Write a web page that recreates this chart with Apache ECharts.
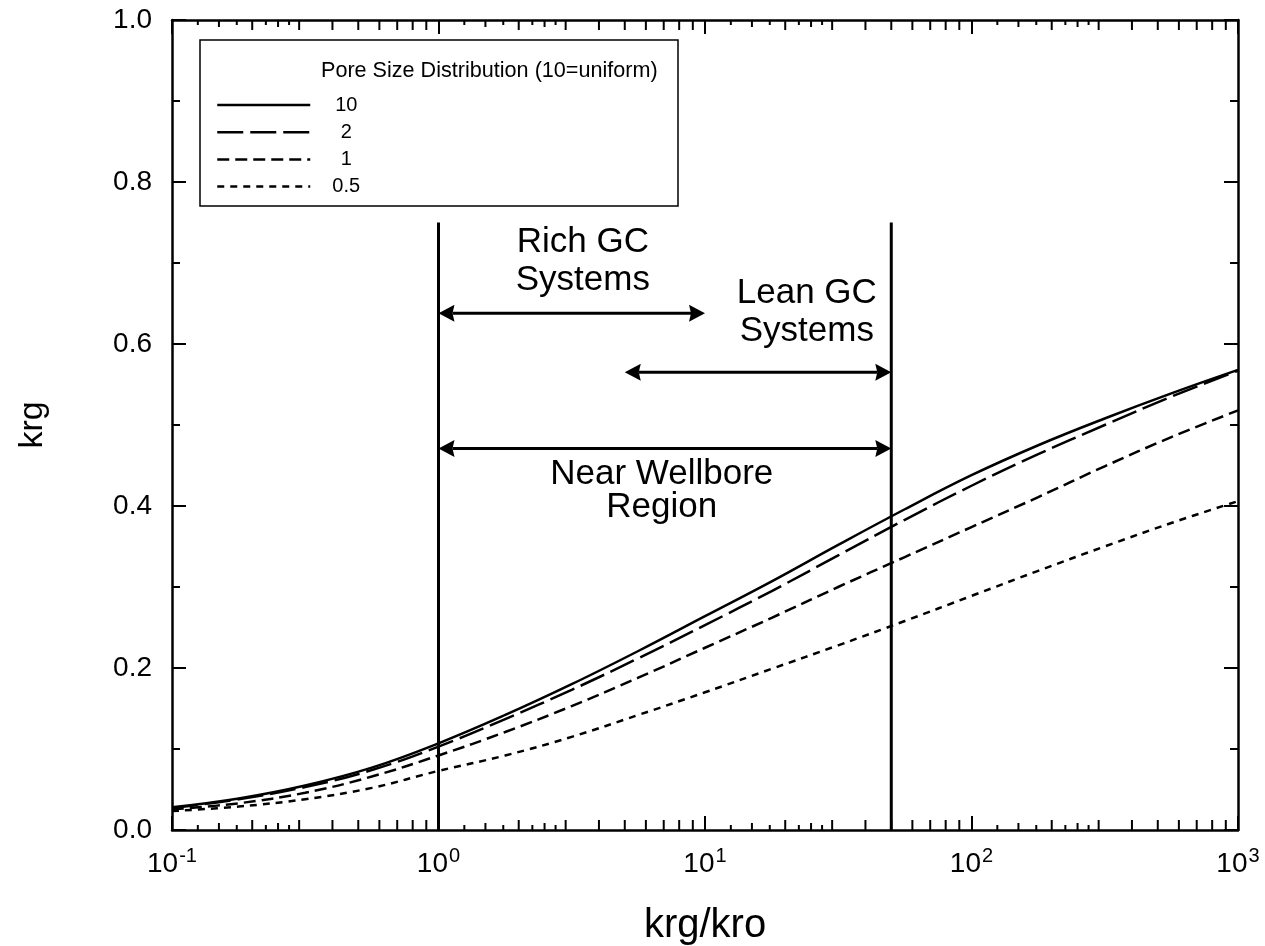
<!DOCTYPE html>
<html>
<head>
<meta charset="utf-8">
<script src="https://cdn.jsdelivr.net/npm/echarts@6.0.0/dist/echarts.min.js"></script>
<style>
  html, body { margin: 0; padding: 0; background: #fff; }
  #chart { width: 1265px; height: 946px; }
</style>
</head>
<body>
<div id="chart"></div>
<script>
// krg/kro ratio sample points (quarter-decade steps)
const kRatio = [0.1, 0.178, 0.316, 0.562, 1, 1.78, 3.16, 5.62, 10, 17.8, 31.6, 56.2, 100, 178, 316, 562, 1000];

// Gas relative permeability for each pore size distribution index
const krgPsd10  = [0.028, 0.039, 0.055, 0.077, 0.107, 0.142, 0.180, 0.221, 0.264, 0.307, 0.352, 0.396, 0.438, 0.475, 0.508, 0.539, 0.568];
const krgPsd2   = [0.027, 0.038, 0.053, 0.074, 0.103, 0.137, 0.173, 0.212, 0.253, 0.295, 0.339, 0.383, 0.425, 0.464, 0.500, 0.535, 0.567];
const krgPsd1   = [0.0255, 0.033, 0.046, 0.066, 0.092, 0.121, 0.153, 0.188, 0.225, 0.262, 0.300, 0.337, 0.374, 0.411, 0.449, 0.485, 0.518];
const krgPsd05  = [0.0234, 0.029, 0.038, 0.052, 0.073, 0.092, 0.115, 0.142, 0.170, 0.199, 0.228, 0.258, 0.289, 0.320, 0.350, 0.379, 0.406];

const seriesNames = ['10', '2', '1', '0.5'];
const yTickLabels = ['0.0', '0.2', '0.4', '0.6', '0.8', '1.0'];

// Region boundaries (krg/kro) and the extent of the vertical markers (krg)
const boundaryRatios = [1, 50];
const boundaryTop = 0.75;

// Range arrows: [from ratio, to ratio, krg level]
const rangeArrows = [
  [1, 10, 0.638],   // rich gas condensates
  [5, 50, 0.565],   // lean gas condensates
  [1, 50, 0.471]    // near wellbore region
];

// Annotation texts anchored at [ratio, krg]
const noteTexts = ['Rich GC\nSystems', 'Lean GC\nSystems', 'Near Wellbore\nRegion'];
const notePos = [[3.48, 0.702], [24.1, 0.6385], [6.88, 0.419]];
const noteLineHeights = [38, 38, 33];

// Log-axis sub-ticks inside each decade
const decadeStarts = [0.1, 1, 10, 100];
const subTickFactors = [1.25, 1.5, 1.75, 2, 2.25, 2.5, 2.75, 3, 4, 5, 6, 7, 8, 9];

const FONT = '"Liberation Sans", Arial, Helvetica, sans-serif';
const INK = '#000';

const toPairs = arr => kRatio.map((x, i) => [x, arr[i]]);
const dashStyles = ['solid', [26, 7], [12, 6], [7, 6]];
const curveSets = [krgPsd10, krgPsd2, krgPsd1, krgPsd05];

const curveSeries = curveSets.map((vals, i) => ({
  name: seriesNames[i],
  type: 'line',
  data: toPairs(vals),
  smooth: 0.4,
  symbol: 'none',
  silent: true,
  lineStyle: { color: INK, width: 2.5, type: dashStyles[i] },
  itemStyle: { color: INK },
  z: 3
}));

const subTickData = [];
decadeStarts.forEach(d => subTickFactors.forEach(f => subTickData.push([d * f, 0, f])));

const chart = echarts.init(document.getElementById('chart'), null, { renderer: 'canvas' });

chart.setOption({
  backgroundColor: '#fff',
  animation: false,
  textStyle: { fontFamily: FONT, color: INK },
  grid: { left: 172, right: 27, top: 20, bottom: 116, containLabel: false, outerBoundsMode: 'none' },
  xAxis: [
    {
      type: 'log', logBase: 10, min: 0.1, max: 1000, position: 'bottom',
      name: 'krg/kro', nameLocation: 'middle', nameGap: 76,
      nameTextStyle: { fontSize: 40, color: INK, fontFamily: FONT },
      axisLine: { show: true, onZero: false, lineStyle: { color: INK, width: 2.5 } },
      axisTick: { show: true, inside: true, length: 14, lineStyle: { color: INK, width: 2 } },
      minorTick: { show: false },
      splitLine: { show: false },
      axisLabel: {
        margin: 16,
        formatter: v => '{b|10}{s|' + Math.round(Math.log10(v)) + '}',
        rich: {
          b: { fontSize: 28, fontFamily: FONT, color: INK, lineHeight: 32, verticalAlign: 'bottom' },
          s: { fontSize: 20, fontFamily: FONT, color: INK, lineHeight: 32, verticalAlign: 'top', padding: [0, 0, 0, 1] }
        }
      }
    },
    {
      type: 'log', logBase: 10, min: 0.1, max: 1000, position: 'top',
      axisLine: { show: true, onZero: false, lineStyle: { color: INK, width: 2.5 } },
      axisTick: { show: true, inside: true, length: 14, lineStyle: { color: INK, width: 2 } },
      axisLabel: { show: false },
      splitLine: { show: false }
    }
  ],
  yAxis: [
    {
      type: 'value', min: 0, max: 1, interval: 0.2, position: 'left',
      name: 'krg', nameLocation: 'middle', nameGap: 122,
      nameTextStyle: { fontSize: 34, color: INK, fontFamily: FONT },
      axisLine: { show: true, onZero: false, lineStyle: { color: INK, width: 2.5 } },
      axisTick: { show: true, inside: true, length: 14, lineStyle: { color: INK, width: 2 } },
      minorTick: { show: true, splitNumber: 2, length: 8, lineStyle: { color: INK, width: 2 } },
      splitLine: { show: false },
      axisLabel: {
        margin: 20, fontSize: 28, color: INK, fontFamily: FONT,
        formatter: v => yTickLabels[Math.round(v / 0.2)]
      }
    },
    {
      type: 'value', min: 0, max: 1, interval: 0.2, position: 'right',
      axisLine: { show: true, onZero: false, lineStyle: { color: INK, width: 2.5 } },
      axisTick: { show: true, inside: true, length: 14, lineStyle: { color: INK, width: 2 } },
      minorTick: { show: true, splitNumber: 2, length: 8, lineStyle: { color: INK, width: 2 } },
      splitLine: { show: false },
      axisLabel: { show: false }
    }
  ],
  legend: {
    data: seriesNames,
    orient: 'vertical',
    left: 211, top: 90,
    itemWidth: 93, itemHeight: 20, itemGap: 7.2,
    selectedMode: false,
    itemStyle: { opacity: 0, borderWidth: 0 },
    lineStyle: { width: 2.5, color: INK },
    formatter: '{c|{name}}',
    textStyle: {
      fontSize: 20, color: INK, fontFamily: FONT,
      rich: { c: { width: 62, align: 'center', fontSize: 20, lineHeight: 20, fontFamily: FONT, color: INK } }
    }
  },
  graphic: [
    {
      type: 'rect', z: 1,
      shape: { x: 200, y: 40, width: 478, height: 166 },
      style: { fill: '#fff', stroke: INK, lineWidth: 1.5 }
    },
    {
      type: 'text', z: 2, x: 321, y: 71,
      style: { text: 'Pore Size Distribution (10=uniform)', fontSize: 21.6, fontFamily: FONT, fill: INK, verticalAlign: 'middle' }
    }
  ],
  series: [
    ...curveSeries,
    {
      name: 'subticks',
      type: 'custom',
      silent: true,
      data: subTickData,
      encode: { x: 0, y: 1 },
      renderItem: (params, api) => {
        const x = api.value(0);
        const f = api.value(2);
        const len = Number.isInteger(f) ? 10 : ((f === 1.5 || f === 2.5) ? 7 : 5);
        const b = api.coord([x, 0]);
        const t = api.coord([x, 1]);
        return {
          type: 'group',
          children: [
            { type: 'line', shape: { x1: b[0], y1: b[1], x2: b[0], y2: b[1] - len }, style: { stroke: INK, lineWidth: 2 } },
            { type: 'line', shape: { x1: t[0], y1: t[1], x2: t[0], y2: t[1] + len }, style: { stroke: INK, lineWidth: 2 } }
          ]
        };
      },
      z: 4
    },
    {
      name: 'boundaries',
      type: 'custom',
      silent: true,
      data: boundaryRatios.map(r => [r, 0, boundaryTop]),
      encode: { x: 0, y: [1, 2] },
      renderItem: (params, api) => {
        const p0 = api.coord([api.value(0), api.value(1)]);
        const p1 = api.coord([api.value(0), api.value(2)]);
        return { type: 'line', shape: { x1: p0[0], y1: p0[1], x2: p1[0], y2: p1[1] }, style: { stroke: INK, lineWidth: 3 } };
      },
      z: 5
    },
    {
      name: 'ranges',
      type: 'custom',
      silent: true,
      data: rangeArrows,
      encode: { x: [0, 1], y: 2 },
      renderItem: (params, api) => {
        const a = api.coord([api.value(0), api.value(2)]);
        const b = api.coord([api.value(1), api.value(2)]);
        const hl = 16, hw = 8.5;
        const y = a[1];
        return {
          type: 'group',
          children: [
            { type: 'line', shape: { x1: a[0] + hl - 2, y1: y, x2: b[0] - hl + 2, y2: y }, style: { stroke: INK, lineWidth: 3 } },
            { type: 'polygon', shape: { points: [[a[0], y], [a[0] + hl, y - hw], [a[0] + hl - 2, y], [a[0] + hl, y + hw]] }, style: { fill: INK } },
            { type: 'polygon', shape: { points: [[b[0], y], [b[0] - hl, y - hw], [b[0] - hl + 2, y], [b[0] - hl, y + hw]] }, style: { fill: INK } }
          ]
        };
      },
      z: 5
    },
    {
      name: 'notes',
      type: 'custom',
      silent: true,
      data: notePos.map((p, i) => [p[0], p[1], i]),
      encode: { x: 0, y: 1 },
      renderItem: (params, api) => {
        const i = api.value(2);
        const p = api.coord([api.value(0), api.value(1)]);
        return {
          type: 'text', x: p[0], y: p[1],
          style: {
            text: noteTexts[i], fontSize: 35, lineHeight: noteLineHeights[i],
            fontFamily: FONT, fill: INK, align: 'center', verticalAlign: 'middle'
          }
        };
      },
      z: 6
    }
  ]
});
</script>
</body>
</html>
